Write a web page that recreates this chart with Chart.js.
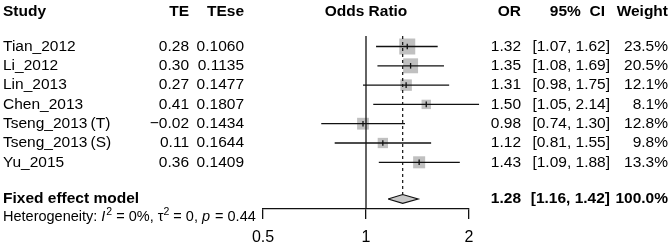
<!DOCTYPE html>
<html>
<head>
<meta charset="utf-8">
<script src="https://cdn.jsdelivr.net/npm/chart.js@4.4.1/dist/chart.umd.min.js"></script>
<style>
html,body{margin:0;padding:0;background:#fff;}
#wrap{width:671px;height:246px;position:relative;}
</style>
</head>
<body>
<div id="wrap"><canvas id="c" width="671" height="246"></canvas></div>
<script>
// ---- data ----
const studies = ['Tian_2012','Li_2012','Lin_2013','Chen_2013','Tseng_2013\u2009(T)','Tseng_2013\u2009(S)','Yu_2015'];
const te = [0.28,0.30,0.27,0.41,-0.02,0.11,0.36];
const tese = [0.1060,0.1135,0.1477,0.1807,0.1434,0.1644,0.1409];
const oddsRatio = [1.32,1.35,1.31,1.50,0.98,1.12,1.43];
const ciLow = [1.07,1.08,0.98,1.05,0.74,0.81,1.09];
const ciHigh = [1.62,1.69,1.75,2.14,1.30,1.55,1.88];
const weights = [23.5,20.5,12.1,8.1,12.8,9.8,13.3];
const pooledOR = 1.28, pooledLow = 1.16, pooledHigh = 1.42, pooledWeight = 100.0;
const tickValues = [0.5,1,2];
const hetI2 = '0%', hetTau2 = '0', hetP = '0.44';

// ---- layout constants ----
const FONT = '"Liberation Sans", Arial, Helvetica, sans-serif';
const FS = 15.5;
const Y_TOP = -2.41, Y_BOT = 8.42;
const DIAMOND_ROW = 7.9, DIAMOND_HALF = 0.23;
const LINE_TOP = -0.55;
const col = {study:3, te:189, tese:244, orc:521, ci:610, ciHead:605, w:668};
const INK = '#111';

const datasets = [];
// CI lines
studies.forEach((s,i)=>{
  datasets.push({type:'line', data:[{x:ciLow[i],y:i},{x:ciHigh[i],y:i}], borderColor:INK, borderWidth:1.3, pointRadius:0, clip:false, order:5});
});
// squares
datasets.push({type:'scatter', data: oddsRatio.map((v,i)=>({x:v,y:i})), pointStyle:'rect',
  pointRadius: weights.map(w=>3.3*Math.sqrt(w)/Math.SQRT2), backgroundColor:'#c0c0c0', borderWidth:0, order:10});
// tick marks at estimates
datasets.push({type:'scatter', data: oddsRatio.map((v,i)=>({x:v,y:i})), pointStyle:'line', rotation:90,
  pointRadius:2.8, borderColor:INK, borderWidth:1.3, order:1});
// null line
datasets.push({type:'line', data:[{x:1,y:LINE_TOP},{x:1,y:Y_BOT}], borderColor:INK, borderWidth:1.3, pointRadius:0, order:4});
// pooled dashed line
datasets.push({type:'line', data:[{x:pooledOR,y:LINE_TOP},{x:pooledOR,y:DIAMOND_ROW-DIAMOND_HALF}], borderColor:INK, borderWidth:1.2, borderDash:[3,3], pointRadius:0, order:4});
// diamond
datasets.push({type:'line', data:[{x:pooledLow,y:DIAMOND_ROW},{x:pooledOR,y:DIAMOND_ROW-DIAMOND_HALF},{x:pooledHigh,y:DIAMOND_ROW},{x:pooledOR,y:DIAMOND_ROW+DIAMOND_HALF},{x:pooledLow,y:DIAMOND_ROW}],
  borderColor:INK, borderWidth:1.2, backgroundColor:'#c8c8c8', fill:'shape', pointRadius:0, tension:0, order:3});

function f2(v){ return (v<0?'\u2212':'') + Math.abs(v).toFixed(2); }

const textPlugin = {
  id:'forestText',
  afterDraw(chart){
    const ctx = chart.ctx, ys = chart.scales.y, xs = chart.scales.x;
    ctx.save();
    ctx.fillStyle = '#000';
    ctx.textBaseline = 'middle';
    const hy = ys.getPixelForValue(-1.79);
    ctx.font = 'bold '+FS+'px '+FONT;
    ctx.textAlign='left'; ctx.fillText('Study', col.study, hy);
    ctx.textAlign='right'; ctx.fillText('TE', col.te, hy); ctx.fillText('TEse', col.tese, hy);
    ctx.textAlign='center'; ctx.fillText('Odds Ratio', xs.getPixelForValue(1), hy);
    ctx.textAlign='right'; ctx.fillText('OR', col.orc, hy); ctx.fillText('95%  CI', col.ciHead, hy); ctx.fillText('Weight', col.w, hy);
    ctx.font = FS+'px '+FONT;
    studies.forEach((s,i)=>{
      const y = ys.getPixelForValue(i);
      ctx.textAlign='left'; ctx.fillText(s, col.study, y);
      ctx.textAlign='right';
      ctx.fillText(f2(te[i]), col.te, y);
      ctx.fillText(tese[i].toFixed(4), col.tese, y);
      ctx.fillText(oddsRatio[i].toFixed(2), col.orc, y);
      ctx.fillText('['+ciLow[i].toFixed(2)+', '+ciHigh[i].toFixed(2)+']', col.ci, y);
      ctx.fillText(weights[i].toFixed(1)+'%', col.w, y);
    });
    const py = ys.getPixelForValue(DIAMOND_ROW);
    ctx.font = 'bold '+FS+'px '+FONT;
    ctx.textAlign='left'; ctx.fillText('Fixed effect model', col.study, py);
    ctx.textAlign='right';
    ctx.fillText(pooledOR.toFixed(2), col.orc, py);
    ctx.fillText('['+pooledLow.toFixed(2)+', '+pooledHigh.toFixed(2)+']', col.ci, py);
    ctx.fillText(pooledWeight.toFixed(1)+'%', col.w, py);
    // heterogeneity
    const hyy = ys.getPixelForValue(8.83);
    const parts = [
      ['Heterogeneity: ', 'normal'],
      ['I', 'italic'], ['2', 'sup'],
      [' = '+hetI2+', \u03c4', 'normal'], ['2', 'sup'],
      [' = '+hetTau2+', ', 'normal'],
      ['p', 'italic'], [' = '+hetP, 'normal']
    ];
    let x = col.study;
    ctx.textAlign='left';
    const HS = 14.5;
    parts.forEach(p=>{
      let dy = 0;
      if(p[1]==='italic') ctx.font = 'italic '+HS+'px '+FONT;
      else if(p[1]==='sup'){ ctx.font = '10.5px '+FONT; dy = -5; }
      else ctx.font = HS+'px '+FONT;
      ctx.fillText(p[0], x, hyy+dy);
      x += ctx.measureText(p[0]).width + (p[1]==='italic'?1:0);
    });
    ctx.restore();
  }
};

new Chart(document.getElementById('c'), {
  type:'scatter',
  data:{datasets},
  options:{
    responsive:false, animation:false, devicePixelRatio:1,
    layout:{autoPadding:false, padding:{left:263, right:202, top:0, bottom:0}},
    plugins:{legend:{display:false}, tooltip:{enabled:false}},
    scales:{
      x:{type:'logarithmic', min:0.5, max:2,
        afterBuildTicks(scale){ scale.ticks = tickValues.map(v=>({value:v})); },
        afterFit(scale){ scale.height = 246-209; },
        ticks:{autoSkip:false, maxRotation:0, padding:9, color:'#000', font:{family:FONT, size:16},
          callback:(v)=> String(v)},
        grid:{drawOnChartArea:false, drawTicks:true, tickLength:10, color:INK, lineWidth:1.3},
        border:{display:true, color:INK, width:1.3}
      },
      y:{type:'linear', min:Y_TOP, max:Y_BOT, reverse:true, display:false}
    }
  },
  plugins:[textPlugin]
});
</script>
</body>
</html>
